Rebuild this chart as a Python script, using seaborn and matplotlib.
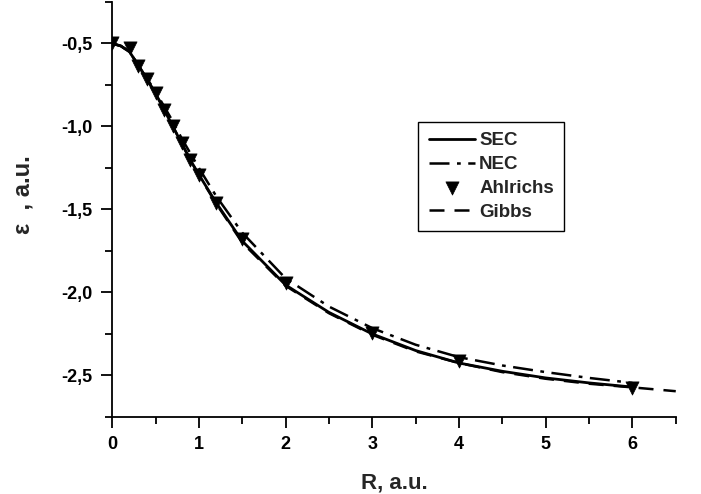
import matplotlib
matplotlib.use("Agg")
import matplotlib.pyplot as plt
import seaborn as sns
from matplotlib.ticker import MultipleLocator, FuncFormatter

# ---- data ----
R_sec = [0, 0.1, 0.2, 0.3, 0.4, 0.5, 0.6, 0.7, 0.8, 0.9, 1.0, 1.2, 1.5, 2.0, 2.5, 3.0, 3.5, 4.0, 4.5, 5.0, 5.5, 6.0]
E_sec = [-0.50, -0.515, -0.55, -0.63, -0.715, -0.80, -0.90, -1.00, -1.10, -1.20, -1.29, -1.46, -1.69, -1.955,
         -2.12, -2.25, -2.35, -2.425, -2.475, -2.515, -2.545, -2.57]

R_nec = [0, 0.1, 0.2, 0.3, 0.4, 0.5, 0.6, 0.7, 0.8, 0.9, 1.0, 1.2, 1.5, 2.0, 2.5, 3.0, 3.5, 4.0, 4.5, 5.0, 5.5, 6.0]
E_nec = [-0.50, -0.515, -0.55, -0.63, -0.71, -0.79, -0.88, -0.97, -1.07, -1.16, -1.25, -1.42, -1.64, -1.915,
         -2.085, -2.215, -2.315, -2.39, -2.44, -2.48, -2.515, -2.545]

R_ahl = [0, 0.2, 0.3, 0.4, 0.5, 0.6, 0.7, 0.8, 0.9, 1.0, 1.2, 1.5, 2.0, 3.0, 4.0, 6.0]
E_ahl = [-0.50, -0.525, -0.637, -0.713, -0.798, -0.899, -1.00, -1.10, -1.20, -1.29, -1.46, -1.68, -1.945,
         -2.245, -2.41, -2.575]

R_gib = [0, 0.1, 0.2, 0.3, 0.4, 0.5, 0.6, 0.7, 0.8, 0.9, 1.0, 1.2, 1.5, 2.0, 2.5, 3.0, 3.5, 4.0, 4.5, 5.0, 5.5, 6.0, 6.5]
E_gib = [-0.50, -0.515, -0.55, -0.63, -0.715, -0.80, -0.90, -1.00, -1.10, -1.20, -1.295, -1.465, -1.70, -1.96,
         -2.125, -2.255, -2.355, -2.425, -2.48, -2.52, -2.55, -2.572, -2.595]

x_label = "R, a.u."
y_label = "\u03b5  , a.u."

# ---- plot ----
sns.set_theme(style="ticks")
plt.rcParams["font.family"] = ["Liberation Sans", "DejaVu Sans"]
plt.rcParams["axes.unicode_minus"] = False

fig = plt.figure(figsize=(7.01, 4.94), dpi=100)
ax = fig.add_axes([0.16, 0.156, 0.804, 0.84])

sns.lineplot(x=R_sec, y=E_sec, ax=ax, color="black", lw=2.0, label="SEC", sort=False)
sns.lineplot(x=R_nec, y=E_nec, ax=ax, color="black", lw=1.8, label="NEC", sort=False)
ax.lines[-1].set_dashes([8, 3, 1.5, 3])
sns.scatterplot(x=R_ahl, y=E_ahl, ax=ax, color="black", marker="v", s=90, edgecolor="black",
                linewidth=0.5, label="Ahlrichs", zorder=5)
sns.lineplot(x=R_gib, y=E_gib, ax=ax, color="black", lw=1.8, label="Gibbs", sort=False)
ax.lines[-1].set_dashes([6, 4])

ax.set_xlim(0, 6.5)
ax.set_ylim(-2.75, -0.25)
ax.xaxis.set_major_locator(MultipleLocator(1))
ax.xaxis.set_minor_locator(MultipleLocator(0.5))
ax.yaxis.set_major_locator(MultipleLocator(0.5))
ax.yaxis.set_minor_locator(MultipleLocator(0.25))
ax.yaxis.set_major_formatter(FuncFormatter(lambda v, p: f"{v:.1f}".replace(".", ",")))
ax.xaxis.set_major_formatter(FuncFormatter(lambda v, p: f"{int(round(v))}"))

for side in ["top", "right"]:
    ax.spines[side].set_visible(False)
for side in ["left", "bottom"]:
    ax.spines[side].set_linewidth(1.3)
    ax.spines[side].set_color("black")

ax.tick_params(which="major", direction="out", length=8, width=1.3, colors="black",
               labelsize=13, pad=6)
ax.tick_params(which="minor", direction="out", length=5, width=1.3, colors="black")
for lab in ax.get_xticklabels() + ax.get_yticklabels():
    lab.set_fontweight("bold")

ax.set_xlabel(x_label, fontsize=16, fontweight="bold")
ax.set_ylabel(y_label, fontsize=17, fontweight="bold")
ax.xaxis.set_label_coords(0.5, -0.135)
ax.yaxis.set_label_coords(-0.137, 0.535)

leg = ax.legend(loc="upper left", bbox_to_anchor=(0.543, 0.711), frameon=True, fancybox=False,
                edgecolor="black", framealpha=1, prop={"weight": "bold", "size": 13.5},
                handlelength=2.5, handletextpad=0.2, borderpad=0.55, labelspacing=0.36,
                borderaxespad=0)
leg.get_frame().set_linewidth(1.0)

fig.savefig("out.png", dpi=100)
